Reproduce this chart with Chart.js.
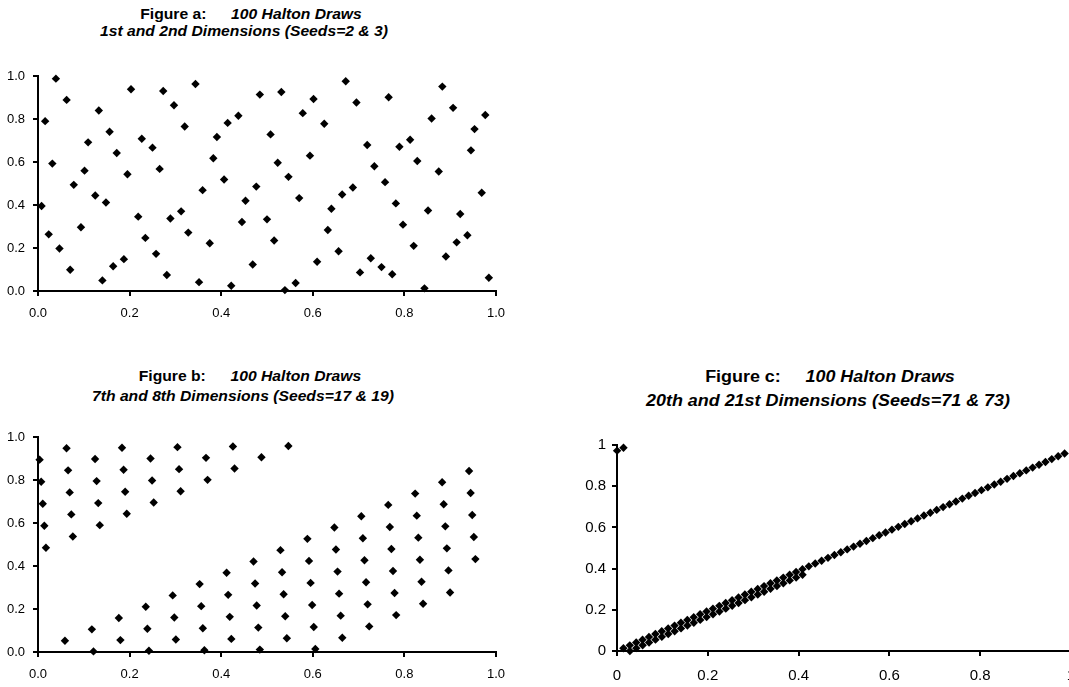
<!DOCTYPE html>
<html>
<head>
<meta charset="utf-8">
<script src="https://cdn.jsdelivr.net/npm/chart.js@4.4.0/dist/chart.umd.min.js"></script>
<style>
  body { margin: 0; width: 1069px; height: 687px; overflow: hidden; background: #fff; position: relative; font-family: "Liberation Sans", Arial, sans-serif; }
  canvas { position: absolute; }
  .ttl { position: absolute; width: 600px; text-align: center; font-weight: bold; color: #000; white-space: nowrap; transform: scaleX(1.12); line-height: 1; }
  .ttl i { font-style: italic; }
  .gap { display: inline-block; width: 22px; }
</style>
</head>
<body>

<div class="ttl" style="left:-49px;top:7px;font-size:14px">Figure a:<span class="gap"></span><i>100 Halton Draws</i></div>
<div class="ttl" style="left:-56px;top:24px;font-size:14px"><i>1st and 2nd Dimensions (Seeds=2 &amp; 3)</i></div>

<div class="ttl" style="left:-50px;top:369px;font-size:14px">Figure b:<span class="gap"></span><i>100 Halton Draws</i></div>
<div class="ttl" style="left:-57px;top:389px;font-size:14px"><i>7th and 8th Dimensions (Seeds=17 &amp; 19)</i></div>

<div class="ttl" style="left:530px;top:369px;font-size:16px">Figure c:<span class="gap"></span><i>100 Halton Draws</i></div>
<div class="ttl" style="left:528px;top:393px;font-size:16px"><i>20th and 21st Dimensions (Seeds=71 &amp; 73)</i></div>

<canvas id="chartA" width="520" height="291" style="left:0;top:40px"></canvas>
<canvas id="chartB" width="520" height="277" style="left:0;top:410px"></canvas>
<canvas id="chartC" width="560" height="267" style="left:540px;top:420px"></canvas>

<script>
// draws 1..100
var seed2 = [0.5,0.25,0.75,0.125,0.625,0.375,0.875,0.0625,0.5625,0.3125,
    0.8125,0.1875,0.6875,0.4375,0.9375,0.0313,0.5313,0.2813,0.7813,0.1563,
    0.6563,0.4063,0.9063,0.0938,0.5938,0.3438,0.8438,0.2188,0.7188,0.4688,
    0.9688,0.0156,0.5156,0.2656,0.7656,0.1406,0.6406,0.3906,0.8906,0.0781,
    0.5781,0.3281,0.8281,0.2031,0.7031,0.4531,0.9531,0.0469,0.5469,0.2969,
    0.7969,0.1719,0.6719,0.4219,0.9219,0.1094,0.6094,0.3594,0.8594,0.2344,
    0.7344,0.4844,0.9844,0.0078,0.5078,0.2578,0.7578,0.1328,0.6328,0.3828,
    0.8828,0.0703,0.5703,0.3203,0.8203,0.1953,0.6953,0.4453,0.9453,0.0391,
    0.5391,0.2891,0.7891,0.1641,0.6641,0.4141,0.9141,0.1016,0.6016,0.3516,
    0.8516,0.2266,0.7266,0.4766,0.9766,0.0234,0.5234,0.2734,0.7734,0.1484];
var seed3 = [0.3333,0.6667,0.1111,0.4444,0.7778,0.2222,0.5556,0.8889,0.0370,0.3704,
    0.7037,0.1481,0.4815,0.8148,0.2593,0.5926,0.9259,0.0741,0.4074,0.7407,
    0.1852,0.5185,0.8519,0.2963,0.6296,0.9630,0.0123,0.3457,0.6790,0.1235,
    0.4568,0.7901,0.2346,0.5679,0.9012,0.0494,0.3827,0.7160,0.1605,0.4938,
    0.8272,0.2716,0.6049,0.9383,0.0864,0.4198,0.7531,0.1975,0.5309,0.8642,
    0.3086,0.6420,0.9753,0.0247,0.3580,0.6914,0.1358,0.4691,0.8025,0.2469,
    0.5802,0.9136,0.0617,0.3951,0.7284,0.1728,0.5062,0.8395,0.2840,0.6173,
    0.9506,0.0988,0.4321,0.7654,0.2099,0.5432,0.8765,0.3210,0.6543,0.9877,
    0.0041,0.3374,0.6708,0.1152,0.4486,0.7819,0.2263,0.5597,0.8930,0.0412,
    0.3745,0.7078,0.1523,0.4856,0.8189,0.2634,0.5967,0.9300,0.0782,0.4115];
var seed17 = [0.0588,0.1176,0.1765,0.2353,0.2941,0.3529,0.4118,0.4706,0.5294,0.5882,0.6471,0.7059,0.7647,0.8235,0.8824,0.9412,
    0.0035,0.0623,0.1211,0.1799,0.2388,0.2976,0.3564,0.4152,0.4740,0.5329,0.5917,0.6505,0.7093,0.7682,0.8270,0.8858,0.9446,
    0.0069,0.0657,0.1246,0.1834,0.2422,0.3010,0.3599,0.4187,0.4775,0.5363,0.5952,0.6540,0.7128,0.7716,0.8304,0.8893,0.9481,
    0.0104,0.0692,0.1280,0.1869,0.2457,0.3045,0.3633,0.4221,0.4810,0.5398,0.5986,0.6574,0.7163,0.7751,0.8339,0.8927,0.9516,
    0.0138,0.0727,0.1315,0.1903,0.2491,0.3080,0.3668,0.4256,0.4844,0.5433,0.6021,0.6609,0.7197,0.7785,0.8374,0.8962,0.9550,
    0.0173,0.0761,0.1349,0.1938,0.2526,0.3114,0.3702,0.4291,0.4879,0.5467,0.6055,0.6644,0.7232,0.7820,0.8408,0.8997];
var seed19 = [0.0526,0.1053,0.1579,0.2105,0.2632,0.3158,0.3684,0.4211,0.4737,0.5263,0.5789,0.6316,0.6842,0.7368,0.7895,0.8421,0.8947,0.9474,
    0.0028,0.0554,0.1080,0.1607,0.2133,0.2659,0.3186,0.3712,0.4238,0.4765,0.5291,0.5817,0.6343,0.6870,0.7396,0.7922,0.8449,0.8975,0.9501,
    0.0055,0.0582,0.1108,0.1634,0.2161,0.2687,0.3213,0.3740,0.4266,0.4792,0.5319,0.5845,0.6371,0.6898,0.7424,0.7950,0.8476,0.9003,0.9529,
    0.0083,0.0609,0.1136,0.1662,0.2188,0.2715,0.3241,0.3767,0.4294,0.4820,0.5346,0.5873,0.6399,0.6925,0.7452,0.7978,0.8504,0.9030,0.9557,
    0.0111,0.0637,0.1163,0.1690,0.2216,0.2742,0.3269,0.3795,0.4321,0.4848,0.5374,0.5900,0.6427,0.6953,0.7479,0.8006,0.8532,0.9058,0.9584,
    0.0139,0.0665,0.1191,0.1717,0.2244,0.2770];
var seed71 = [0.0141,0.0282,0.0423,0.0563,0.0704,0.0845,0.0986,0.1127,0.1268,0.1408,
    0.1549,0.1690,0.1831,0.1972,0.2113,0.2254,0.2394,0.2535,0.2676,0.2817,
    0.2958,0.3099,0.3239,0.3380,0.3521,0.3662,0.3803,0.3944,0.4085,0.4225,
    0.4366,0.4507,0.4648,0.4789,0.4930,0.5070,0.5211,0.5352,0.5493,0.5634,
    0.5775,0.5915,0.6056,0.6197,0.6338,0.6479,0.6620,0.6761,0.6901,0.7042,
    0.7183,0.7324,0.7465,0.7606,0.7746,0.7887,0.8028,0.8169,0.8310,0.8451,
    0.8592,0.8732,0.8873,0.9014,0.9155,0.9296,0.9437,0.9577,0.9718,0.9859,
    0.0002,0.0143,0.0284,0.0425,0.0565,0.0706,0.0847,0.0988,0.1129,0.1270,
    0.1410,0.1551,0.1692,0.1833,0.1974,0.2115,0.2256,0.2396,0.2537,0.2678,
    0.2819,0.2960,0.3101,0.3241,0.3382,0.3523,0.3664,0.3805,0.3946,0.4087];
var seed73 = [0.0137,0.0274,0.0411,0.0548,0.0685,0.0822,0.0959,0.1096,0.1233,0.1370,
    0.1507,0.1644,0.1781,0.1918,0.2055,0.2192,0.2329,0.2466,0.2603,0.2740,
    0.2877,0.3014,0.3151,0.3288,0.3425,0.3562,0.3699,0.3836,0.3973,0.4110,
    0.4247,0.4384,0.4521,0.4658,0.4795,0.4932,0.5068,0.5205,0.5342,0.5479,
    0.5616,0.5753,0.5890,0.6027,0.6164,0.6301,0.6438,0.6575,0.6712,0.6849,
    0.6986,0.7123,0.7260,0.7397,0.7534,0.7671,0.7808,0.7945,0.8082,0.8219,
    0.8356,0.8493,0.8630,0.8767,0.8904,0.9041,0.9178,0.9315,0.9452,0.9589,
    0.9726,0.9863,0.0002,0.0139,0.0276,0.0413,0.0550,0.0687,0.0824,0.0961,
    0.1098,0.1235,0.1372,0.1509,0.1646,0.1783,0.1920,0.2057,0.2194,0.2331,
    0.2468,0.2605,0.2742,0.2879,0.3016,0.3153,0.3290,0.3427,0.3564,0.3701];

var tickLabelsAB = ['0.0', '0.2', '0.4', '0.6', '0.8', '1.0'];
var tickLabelsC = ['0', '0.2', '0.4', '0.6', '0.8', '1'];

function toPoints(xs, ys) {
    let pts = [];
    for (let i = 0; i < xs.length; i++) {
        pts.push({x: xs[i], y: ys[i]});
    }
    return pts;
}

function axis(labels, fontSize, pad, fit) {
    return {
        type: 'linear',
        min: 0,
        max: 1,
        grid: { display: true, drawOnChartArea: false, drawTicks: true, tickLength: 5, color: '#000', lineWidth: 2 },
        border: { display: true, color: '#000', width: 2 },
        ticks: {
            stepSize: 0.2,
            padding: pad,
            color: '#000',
            font: { family: '"Liberation Sans", Arial, sans-serif', size: fontSize },
            maxRotation: 0,
            callback: function (v, i) { return labels[i]; }
        },
        afterFit: fit
    };
}

function drawPanel(id, xs, ys, s) {
    new Chart(document.getElementById(id), {
        type: 'scatter',
        data: {
            datasets: [{
                data: toPoints(xs, ys),
                pointStyle: 'rectRot',
                pointRadius: s.radius,
                backgroundColor: '#000',
                borderColor: '#000',
                borderWidth: 0,
                clip: false
            }]
        },
        options: {
            responsive: false,
            animation: false,
            devicePixelRatio: 1,
            layout: { padding: { top: s.top, right: s.right, bottom: 0, left: 0 } },
            plugins: { legend: { display: false }, tooltip: { enabled: false } },
            scales: {
                x: axis(s.labels, s.font, s.xPad, function (sc) { sc.height = s.xh; }),
                y: axis(s.labels, s.font, s.yPad, function (sc) { sc.width = s.yw; })
            }
        }
    });
}

drawPanel('chartA', seed2, seed3, { labels: tickLabelsAB, font: 13, xPad: 10, yPad: 8, top: 36, right: 24, xh: 40, yw: 38, radius: 4.2 });
drawPanel('chartB', seed17, seed19, { labels: tickLabelsAB, font: 13, xPad: 10, yPad: 8, top: 27, right: 24, xh: 35, yw: 38, radius: 4.2 });
drawPanel('chartC', seed71, seed73, { labels: tickLabelsC, font: 15, xPad: 11, yPad: 6, top: 25, right: 29, xh: 36, yw: 77, radius: 4.2 });
</script>
</body>
</html>
